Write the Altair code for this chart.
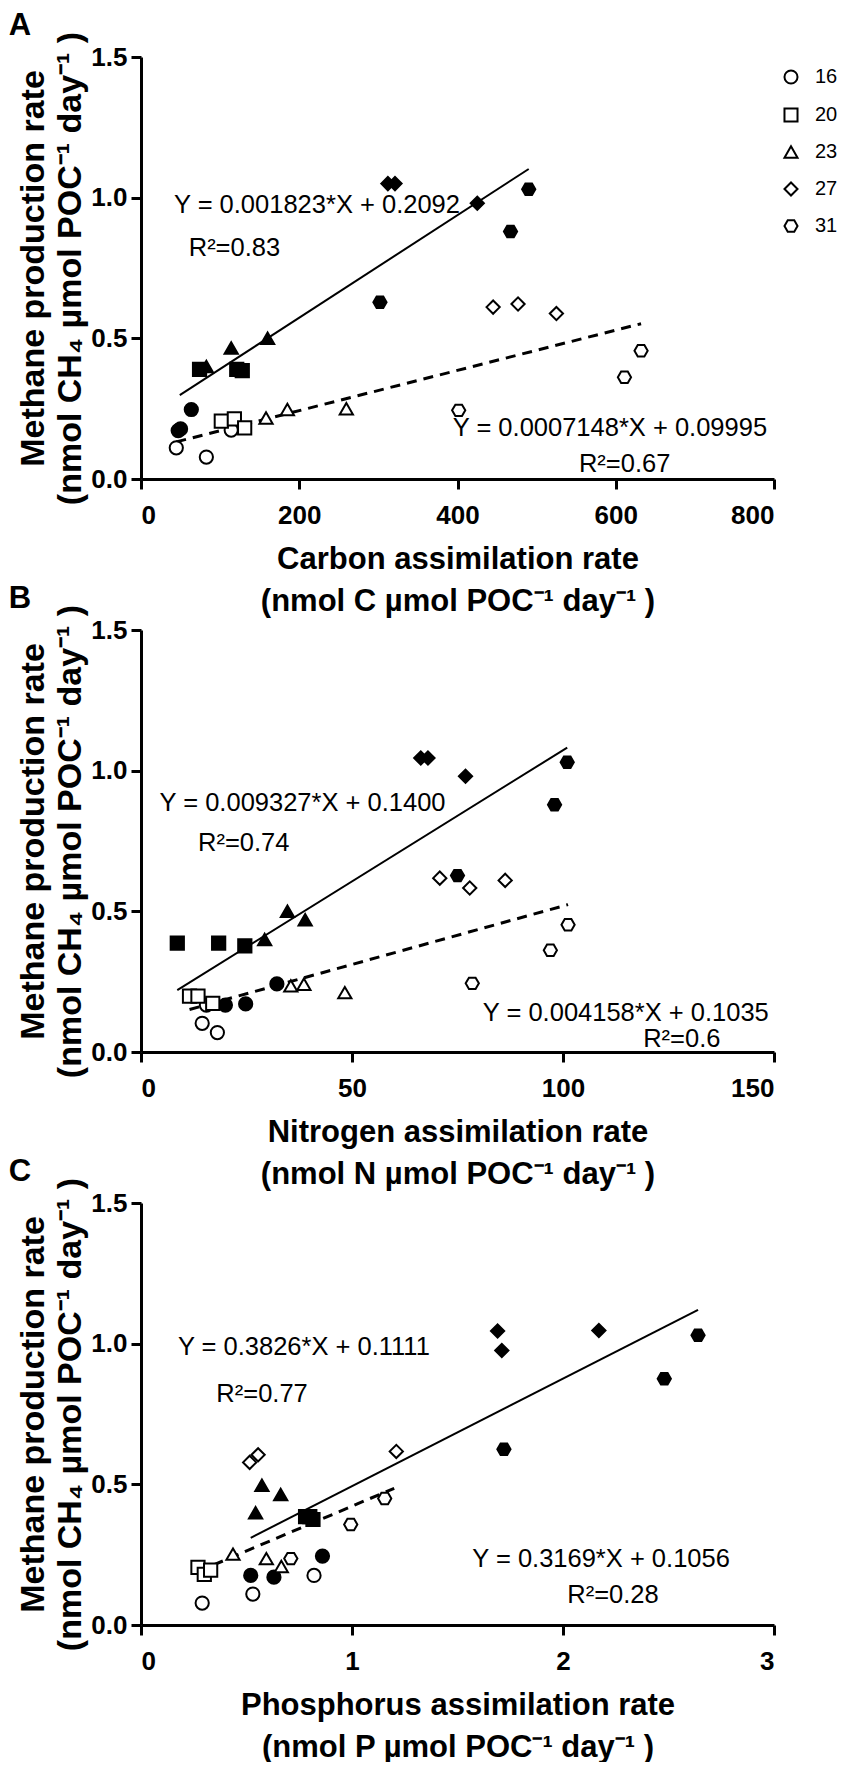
import altair as alt
import pandas as pd

FONT = "Liberation Sans"

# ---------------- data ----------------
temps = ["16", "20", "23", "27", "31"]
rep_temp = [t for t in temps for _ in range(3)]

# Panel A - carbon assimilation
carbon_filled = [47, 50, 63.6, 74, 121, 128, 82.6, 114, 160, 312, 321, 425, 302, 467, 490]
ch4_A_filled = [0.172, 0.178, 0.247, 0.39, 0.39, 0.385, 0.40, 0.466, 0.50, 1.05, 1.05, 0.98, 0.628, 0.88, 1.03]
carbon_open = [44.6, 82.6, 114, 101.5, 118, 131, 158, 185, 259.5, 445, 476.5, 525, 401.5, 611, 632]
ch4_A_open = [0.111, 0.078, 0.174, 0.206, 0.214, 0.182, 0.217, 0.247, 0.25, 0.611, 0.622, 0.588, 0.244, 0.362, 0.456]
fit_A_solid_x = [49, 490]
fit_A_solid_y = [0.298, 1.102]
fit_A_dash_x = [44.6, 632]
fit_A_dash_y = [0.132, 0.552]

# Panel B - nitrogen assimilation
nitrogen_filled = [20, 24.8, 32.2, 8.6, 18.4, 24.6, 29.3, 34.7, 38.9, 66.3, 68, 76.9, 75, 98, 101]
ch4_B_filled = [0.167, 0.171, 0.242, 0.387, 0.387, 0.377, 0.40, 0.50, 0.47, 1.045, 1.045, 0.98, 0.627, 0.879, 1.03]
nitrogen_open = [14.5, 18.1, 15.5, 11.5, 13.5, 17, 35.5, 38.6, 48.3, 70.8, 77.9, 86.3, 78.5, 97, 101.2]
ch4_B_open = [0.102, 0.069, 0.167, 0.199, 0.199, 0.173, 0.235, 0.241, 0.211, 0.618, 0.583, 0.61, 0.244, 0.362, 0.452]
fit_B_solid_x = [8.6, 101]
fit_B_solid_y = [0.22, 1.082]
fit_B_dash_x = [11.5, 101.2]
fit_B_dash_y = [0.151, 0.524]

# Panel C - phosphorus assimilation
phosphorus_filled = [0.52, 0.63, 0.86, 0.78, 0.80, 0.815, 0.543, 0.573, 0.662, 1.69, 1.71, 2.17, 1.72, 2.48, 2.64]
ch4_C_filled = [0.176, 0.17, 0.245, 0.385, 0.385, 0.375, 0.399, 0.497, 0.464, 1.045, 0.976, 1.047, 0.625, 0.875, 1.03]
phosphorus_open = [0.29, 0.53, 0.82, 0.27, 0.30, 0.33, 0.436, 0.594, 0.665, 0.515, 0.555, 1.21, 0.71, 0.994, 1.155]
ch4_C_open = [0.078, 0.11, 0.176, 0.205, 0.18, 0.195, 0.252, 0.236, 0.208, 0.578, 0.605, 0.617, 0.236, 0.357, 0.45]
fit_C_solid_x = [0.52, 2.64]
fit_C_solid_y = [0.31, 1.12]
fit_C_dash_x = [0.27, 1.2]
fit_C_dash_y = [0.19, 0.486]

# regression annotations
eq_A_text = ["Y = 0.001823*X + 0.2092", "R²=0.83", "Y = 0.0007148*X + 0.09995", "R²=0.67"]
eq_A_x = [41.7, 60.3, 394, 553.5]
eq_A_y = [0.975, 0.82, 0.18, 0.055]
eq_B_text = ["Y = 0.009327*X + 0.1400", "R²=0.74", "Y = 0.004158*X + 0.1035", "R²=0.6"]
eq_B_x = [4.4, 13.5, 81, 119]
eq_B_y = [0.885, 0.743, 0.14, 0.045]
eq_C_text = ["Y = 0.3826*X + 0.1111", "R²=0.77", "Y = 0.3169*X + 0.1056", "R²=0.28"]
eq_C_x = [0.175, 0.357, 1.57, 2.02]
eq_C_y = [0.988, 0.82, 0.235, 0.105]

y_title = ["Methane production rate", "(nmol CH₄ µmol POC⁻¹ day⁻¹ )"]
x_title_A = ["Carbon assimilation rate", "(nmol C µmol POC⁻¹ day⁻¹ )"]
x_title_B = ["Nitrogen assimilation rate", "(nmol N µmol POC⁻¹ day⁻¹ )"]
x_title_C = ["Phosphorus assimilation rate", "(nmol P µmol POC⁻¹ day⁻¹ )"]

# ---------------- styling ----------------
HEX = "M-1,0L-0.5,-0.866L0.5,-0.866L1,0L0.5,0.866L-0.5,0.866Z"
shapes = ["circle", "square", "triangle-up", "diamond", HEX]
W, H = 633, 422


def make_panel(letter, xf, yf, xo, yo, sx, sy, dx, dy, xdomain, xticks, xtitle,
               eq_text, eq_x, eq_y, show_legend):
    pts = pd.DataFrame({
        "x": xf + xo,
        "y": yf + yo,
        "temp": rep_temp + rep_temp,
        "treatment": ["filled"] * len(xf) + ["open"] * len(xo),
    })
    solid = pd.DataFrame({"x": sx, "y": sy})
    dashed = pd.DataFrame({"x": dx, "y": dy})
    eqs = pd.DataFrame({"x": eq_x, "y": eq_y, "text": eq_text})
    lab = pd.DataFrame({"label": [letter]})

    X = alt.X("x:Q", scale=alt.Scale(domain=xdomain, nice=False, zero=False),
              axis=alt.Axis(values=xticks, title=xtitle, titleX=W / 2, titleY=80,
                            titleLineHeight=42, titleBaseline="middle", titleAlign="center",
                            titleFontSize=31, labelPadding=13))
    Y = alt.Y("y:Q", scale=alt.Scale(domain=[0, 1.5], nice=False),
              axis=alt.Axis(values=[0, 0.5, 1.0, 1.5], format=".1f", title=y_title,
                            titleX=-108, titleY=H / 2, titleAngle=270, titleLineHeight=37,
                            titleBaseline="middle", titleAlign="center", titleFontSize=34,
                            labelPadding=4))

    if show_legend:
        legend = alt.Legend(title=None, orient="none", legendX=640, legendY=10,
                            symbolSize=170, symbolStrokeWidth=2, symbolStrokeColor="black",
                            symbolFillColor="white", labelFontSize=20, labelFont=FONT,
                            labelColor="black", rowPadding=16, labelOffset=14, padding=0)
    else:
        legend = None

    l_solid = alt.Chart(solid).mark_line(color="black", strokeWidth=2).encode(x=X, y=Y)
    l_dash = alt.Chart(dashed).mark_line(color="black", strokeWidth=3,
                                         strokeDash=[10, 7]).encode(x=X, y=Y)
    p = alt.Chart(pts).mark_point(filled=True, size=175, stroke="black", strokeWidth=2,
                                  opacity=1).encode(
        x=X, y=Y,
        shape=alt.Shape("temp:N", scale=alt.Scale(domain=temps, range=shapes), legend=legend),
        fill=alt.Fill("treatment:N", scale=alt.Scale(domain=["filled", "open"],
                                                      range=["black", "white"]), legend=None),
    )
    t = alt.Chart(eqs).mark_text(align="left", baseline="middle", fontSize=25.5, font=FONT,
                                 color="black").encode(x=X, y=Y, text="text:N")
    letter_mark = alt.Chart(lab).mark_text(align="center", baseline="middle", fontSize=31,
                                           fontWeight="bold", font=FONT, color="black").encode(
        x=alt.value(-121), y=alt.value(-31), text="label:N")
    return alt.layer(l_solid, l_dash, p, t, letter_mark).properties(width=W, height=H)


pA = make_panel("A", carbon_filled, ch4_A_filled, carbon_open, ch4_A_open,
                fit_A_solid_x, fit_A_solid_y, fit_A_dash_x, fit_A_dash_y,
                [0, 800], [0, 200, 400, 600, 800], x_title_A,
                eq_A_text, eq_A_x, eq_A_y, True)
pB = make_panel("B", nitrogen_filled, ch4_B_filled, nitrogen_open, ch4_B_open,
                fit_B_solid_x, fit_B_solid_y, fit_B_dash_x, fit_B_dash_y,
                [0, 150], [0, 50, 100, 150], x_title_B,
                eq_B_text, eq_B_x, eq_B_y, False)
pC = make_panel("C", phosphorus_filled, ch4_C_filled, phosphorus_open, ch4_C_open,
                fit_C_solid_x, fit_C_solid_y, fit_C_dash_x, fit_C_dash_y,
                [0, 3], [0, 1, 2, 3], x_title_C,
                eq_C_text, eq_C_x, eq_C_y, False)

chart = alt.vconcat(pA, pB, pC, spacing=151, bounds="flush").resolve_scale(
    shape="independent", fill="independent", x="independent", y="independent"
).resolve_legend(shape="independent").properties(
    padding={"left": 0, "top": 2, "right": 2, "bottom": 0}
).configure_view(stroke=None).configure_axis(
    grid=False, domainColor="black", domainWidth=3, tickColor="black", tickWidth=3,
    tickSize=10, labelFont=FONT, labelFontSize=26, labelFontWeight="bold",
    labelColor="black", titleFont=FONT, titleFontSize=31, titleFontWeight="bold",
    titleColor="black"
)

chart.save("out.html", embed_options={"renderer": "svg", "actions": False})
